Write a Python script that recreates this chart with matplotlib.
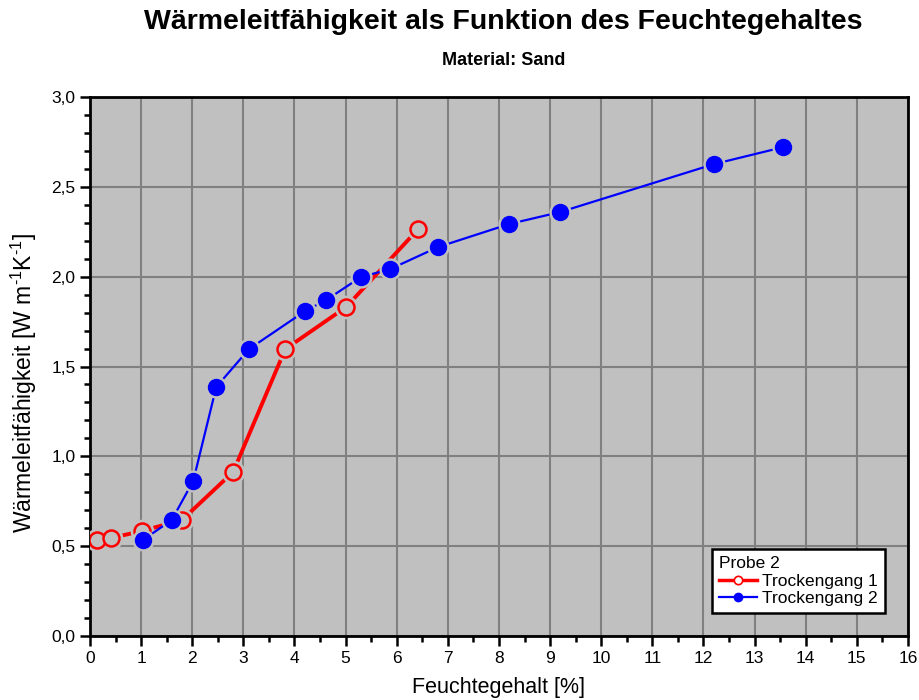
import matplotlib
matplotlib.use("Agg")
import matplotlib.pyplot as plt
from matplotlib.lines import Line2D
from matplotlib.ticker import MultipleLocator, FuncFormatter

plt.rcParams['font.family'] = ['Liberation Sans', 'DejaVu Sans']
plt.rcParams['mathtext.fontset'] = 'custom'
plt.rcParams['mathtext.rm'] = 'Liberation Sans'
plt.rcParams['mathtext.it'] = 'Liberation Sans:italic'
plt.rcParams['mathtext.bf'] = 'Liberation Sans:bold'

# Trockengang 1 (red, hollow)
x1 = [0.14, 0.41, 1.02, 1.80, 2.80, 3.82, 5.01, 6.42]
y1 = [0.535, 0.545, 0.585, 0.646, 0.913, 1.597, 1.831, 2.265]
# Trockengang 2 (blue, filled)
x2 = [1.04, 1.60, 2.02, 2.47, 3.11, 4.21, 4.62, 5.30, 5.87, 6.81, 8.20, 9.20, 12.21, 13.56]
y2 = [0.535, 0.646, 0.863, 1.386, 1.597, 1.809, 1.870, 1.998, 2.042, 2.165, 2.293, 2.360, 2.627, 2.721]

legend_title = "Probe 2"
labels = ["Trockengang 1", "Trockengang 2"]

bg = "#c0c0c0"
fig = plt.figure(figsize=(9.19, 7.0), dpi=100)
ax = fig.add_axes([0.0979, 0.0914, 0.988 - 0.0979, 0.8614 - 0.0914])
ax.set_facecolor(bg)

ax.set_xlim(0, 16)
ax.set_ylim(0, 3.0)
ax.xaxis.set_major_locator(MultipleLocator(1))
ax.xaxis.set_minor_locator(MultipleLocator(0.5))
ax.yaxis.set_major_locator(MultipleLocator(0.5))
ax.yaxis.set_minor_locator(MultipleLocator(0.1))
ax.yaxis.set_major_formatter(FuncFormatter(lambda v, p: f"{v:.1f}".replace(".", ",")))
ax.xaxis.set_major_formatter(FuncFormatter(lambda v, p: f"{int(round(v))}"))
ax.grid(True, which='major', color='#808080', linewidth=1.5)
ax.set_axisbelow(True)
for s in ax.spines.values():
    s.set_linewidth(2)
ax.tick_params(which='major', direction='out', length=7, width=1.8, labelsize=12.5)
ax.tick_params(which='minor', direction='out', length=4, width=1.8)

# red series
ax.plot(x1, y1, color='red', linewidth=2.8, zorder=3)
ax.plot(x1, y1, linestyle='none', marker='o', markersize=16, markerfacecolor=bg,
        markeredgecolor=bg, zorder=4)
ax.plot(x1, y1, linestyle='none', marker='o', markersize=11.5, markerfacecolor=bg,
        markeredgecolor='red', markeredgewidth=1.8, zorder=5)
# blue series
ax.plot(x2, y2, color='blue', linewidth=1.6, zorder=6)
ax.plot(x2, y2, linestyle='none', marker='o', markersize=15, markerfacecolor=bg,
        markeredgecolor=bg, zorder=7)
ax.plot(x2, y2, linestyle='none', marker='o', markersize=11.5, markerfacecolor='blue',
        markeredgecolor='blue', zorder=8)

ax.set_xlabel("Feuchtegehalt [%]", fontsize=15.5, labelpad=8)
ax.set_ylabel(r"Wärmeleitfähigkeit [W m$^{\text{-1}}$K$^{\text{-1}}$]", fontsize=16.5)
ax.yaxis.set_label_coords(-0.062, 0.47)

fig.text(0.548, 0.968, "Wärmeleitfähigkeit als Funktion des Feuchtegehaltes",
         ha='center', va='center', fontsize=20.5, fontweight='bold')
fig.text(0.548, 0.914, "Material: Sand", ha='center', va='center',
         fontsize=13, fontweight='bold')

handles = [
    Line2D([], [], color='red', linewidth=2.5, marker='o', markersize=6,
           markerfacecolor='white', markeredgecolor='red', markeredgewidth=1.2),
    Line2D([], [], color='blue', linewidth=1.6, marker='o', markersize=6,
           markerfacecolor='blue', markeredgecolor='blue'),
]
leg = ax.legend(handles, labels, title=legend_title, loc='lower right',
                bbox_to_anchor=(0.972, 0.042), fontsize=12.5, title_fontsize=12.5,
                fancybox=False, framealpha=1, edgecolor='black', handlelength=2.2,
                handletextpad=0.3, borderpad=0.4, labelspacing=0.15, borderaxespad=0)
leg._legend_box.align = "left"
leg.get_frame().set_linewidth(1.8)
leg.set_zorder(20)

fig.savefig("out.png", dpi=100)
